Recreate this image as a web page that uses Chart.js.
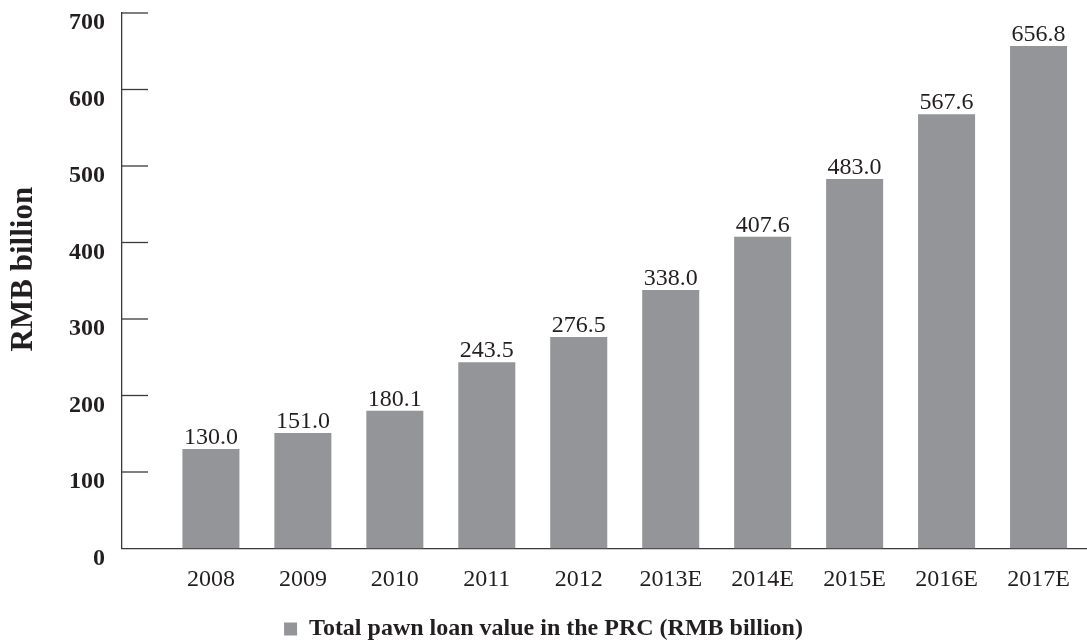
<!DOCTYPE html>
<html>
<head>
<meta charset="utf-8">
<title>Total pawn loan value in the PRC</title>
<script src="https://cdn.jsdelivr.net/npm/chart.js@4/dist/chart.umd.min.js"></script>
<style>
  html, body { margin: 0; padding: 0; background: #ffffff; overflow: hidden; }
  #wrap { position: relative; width: 1087px; height: 651px; }
</style>
</head>
<body>
<div id="wrap"><canvas id="chart"></canvas></div>
<script>
// Years (E = estimate) and loan values in RMB billion
const categories = ['2008', '2009', '2010', '2011', '2012', '2013E', '2014E', '2015E', '2016E', '2017E'];
const loanValues = [130.0, 151.0, 180.1, 243.5, 276.5, 338.0, 407.6, 483.0, 567.6, 656.8];
const yTicks = [0, 100, 200, 300, 400, 500, 600, 700];
const seriesName = 'Total pawn loan value in the PRC (RMB billion)';

const FONT = '"Liberation Serif", "DejaVu Serif", serif';
const INK = '#231f20';
const AXIS = '#3a3a3a';
const BAR = '#939598';

// Value printed above each bar
const valueLabels = {
  id: 'valueLabels',
  afterDatasetsDraw(chart) {
    const ctx = chart.ctx;
    const meta = chart.getDatasetMeta(0);
    ctx.save();
    ctx.font = '24px ' + FONT;
    ctx.fillStyle = INK;
    ctx.textAlign = 'center';
    ctx.textBaseline = 'alphabetic';
    meta.data.forEach((bar, i) => {
      ctx.fillText(loanValues[i].toFixed(1), bar.x, bar.y - 5);
    });
    ctx.restore();
  }
};

// Short tick marks pointing into the plot from the value axis
const innerTicks = {
  id: 'innerTicks',
  afterDraw(chart) {
    const y = chart.scales.y;
    const ctx = chart.ctx;
    ctx.save();
    ctx.strokeStyle = AXIS;
    ctx.lineWidth = 1.3;
    yTicks.forEach(v => {
      if (v === 0) return;
      const py = y.getPixelForValue(v);
      ctx.beginPath();
      ctx.moveTo(y.right, py);
      ctx.lineTo(y.right + 26, py);
      ctx.stroke();
    });
    ctx.restore();
  }
};

new Chart(document.getElementById('chart'), {
  type: 'bar',
  data: {
    datasets: [{
      label: seriesName,
      data: loanValues.map((v, i) => ({ x: i, y: v })),
      backgroundColor: BAR,
      borderWidth: 0,
      categoryPercentage: 1,
      barPercentage: 0.62
    }]
  },
  options: {
    responsive: true,
    maintainAspectRatio: false,
    animation: false,
    layout: { padding: { top: 13, right: 0, bottom: 0, left: 0 } },
    plugins: {
      tooltip: { enabled: false },
      legend: {
        position: 'bottom',
        labels: {
          boxWidth: 13,
          boxHeight: 13,
          padding: 6,
          color: INK,
          font: { family: FONT, size: 24, weight: 'bold' }
        }
      }
    },
    scales: {
      x: {
        type: 'linear',
        offset: false,
        min: -0.967,
        max: 9.527,
        grid: { display: false, drawTicks: false },
        border: { display: true, color: AXIS, width: 1.3 },
        afterBuildTicks: axis => { axis.ticks = categories.map((_, i) => ({ value: i })); },
        afterFit: axis => { axis.height = 62.5; axis.paddingLeft = 0; axis.paddingRight = 0; },
        ticks: {
          padding: 17,
          color: INK,
          maxRotation: 0,
          autoSkip: false,
          font: { family: FONT, size: 24 },
          callback: v => categories[v] ?? ''
        }
      },
      y: {
        min: 0,
        max: 700,
        grid: { display: false, drawTicks: false },
        border: { display: true, color: AXIS, width: 1.3 },
        afterBuildTicks: axis => { axis.ticks = yTicks.map(v => ({ value: v })); },
        afterFit: axis => { axis.width = 122; axis.paddingTop = 0; axis.paddingBottom = 0; },
        ticks: {
          padding: 17,
          labelOffset: 10,
          color: INK,
          font: { family: FONT, size: 24, weight: 'bold' }
        },
        title: {
          display: true,
          text: '   RMB billion',
          color: INK,
          padding: { top: 5, bottom: 0 },
          font: { family: FONT, size: 31, weight: 'bold' }
        }
      }
    }
  },
  plugins: [valueLabels, innerTicks]
});
</script>
</body>
</html>
